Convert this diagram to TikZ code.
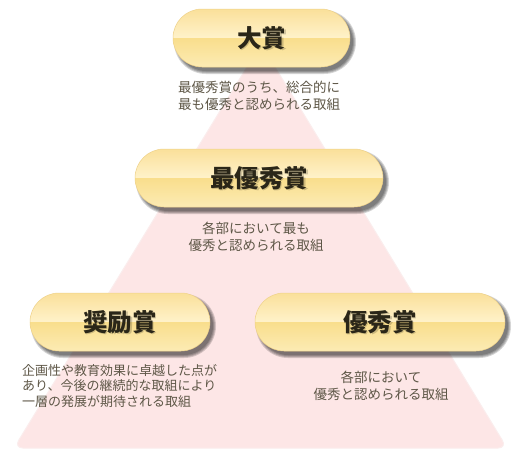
\documentclass[tikz,border=0pt]{standalone}
\usepackage{fontspec}
\newfontfamily\jp{Noto Sans CJK JP}
\usetikzlibrary{calc}
\definecolor{tripink}{HTML}{FDE6E6}
\definecolor{triedge}{HTML}{FBEDED}
\definecolor{btop}{HTML}{FAE09A}
\definecolor{bmid}{HTML}{FFF2CA}
\definecolor{blow}{HTML}{F9DE8C}
\definecolor{bbot}{HTML}{FCEBB4}
\definecolor{bedge}{HTML}{EFD28A}
\definecolor{titlecol}{HTML}{2A2618}
\definecolor{desccol}{HTML}{5E5747}
\tikzset{
  titletext/.style={font=\jp\bfseries\fontsize{24.5}{28}\selectfont, text=titlecol, inner sep=0pt},
  titleshadow/.style={font=\jp\bfseries\fontsize{24.5}{28}\selectfont, text=black, opacity=0.18, inner sep=0pt},
  desctext/.style={font=\jp\fontsize{13.5}{16.5}\selectfont, text=desccol, inner sep=0pt, align=center},
  desclefttext/.style={font=\jp\fontsize{13}{15.7}\selectfont, text=desccol, inner sep=0pt, align=left, anchor=west},
}
% #1 name, #2 x1, #3 x2, #4 y centre, #5 text
\newcommand\awardbtn[5]{%
  \foreach \k in {0,1,2,3}{%
    \pgfmathsetmacro\rr{29+\k}%
    \fill[black, opacity=0.16, rounded corners=\rr pt]
      ({#2+4-\k},{#4-29+4-\k}) rectangle ({#3+3+\k},{#4+29+4+\k});
  }
  \begin{scope}
    \clip[rounded corners=29pt] (#2,{#4-29}) rectangle (#3,{#4+29});
    \shade[top color=btop, bottom color=bmid] (#2,{#4-29}) rectangle (#3,#4);
    \shade[top color=blow, bottom color=bbot] (#2,#4) rectangle (#3,{#4+29});
  \end{scope}
  \draw[bedge, line width=0.5pt, rounded corners=29pt] (#2,{#4-29}) rectangle (#3,{#4+29});
  \node[titleshadow] (#1-sh) at ({(#2+#3)/2+1.5},{#4+1.5}) {#5};
  \node[titletext] (#1) at ({(#2+#3)/2},#4) {#5};
}
\begin{document}
\begin{tikzpicture}[x=1pt,y=-1pt]
\useasboundingbox (0,0) rectangle (520,459);
\fill[white] (0,0) rectangle (520,459);
% pyramid
\fill[tripink, draw=triedge, line width=1pt, rounded corners=9pt]
  (261,44) -- (507,448) -- (14,448) -- cycle;
% buttons
\awardbtn{taisho}{173}{350}{38}{大賞}
\awardbtn{saiyushu}{135}{383}{178}{最優秀賞}
\awardbtn{shorei}{30}{210}{322}{奨励賞}
\awardbtn{yushu}{255}{505}{322}{優秀賞}
% descriptions
\node[desctext] (d-taisho) at (259,96) {最優秀賞のうち、総合的に\\最も優秀と認められる取組};
\node[desctext] (d-saiyushu) at (256,237) {各部において最も\\優秀と認められる取組};
\node[desclefttext] (d-shorei) at (22,386) {企画性や教育効果に卓越した点が\\あり、今後の継続的な取組により\\一層の発展が期待される取組};
\node[desctext] (d-yushu) at (381,386) {各部において\\優秀と認められる取組};
\end{tikzpicture}
\end{document}
